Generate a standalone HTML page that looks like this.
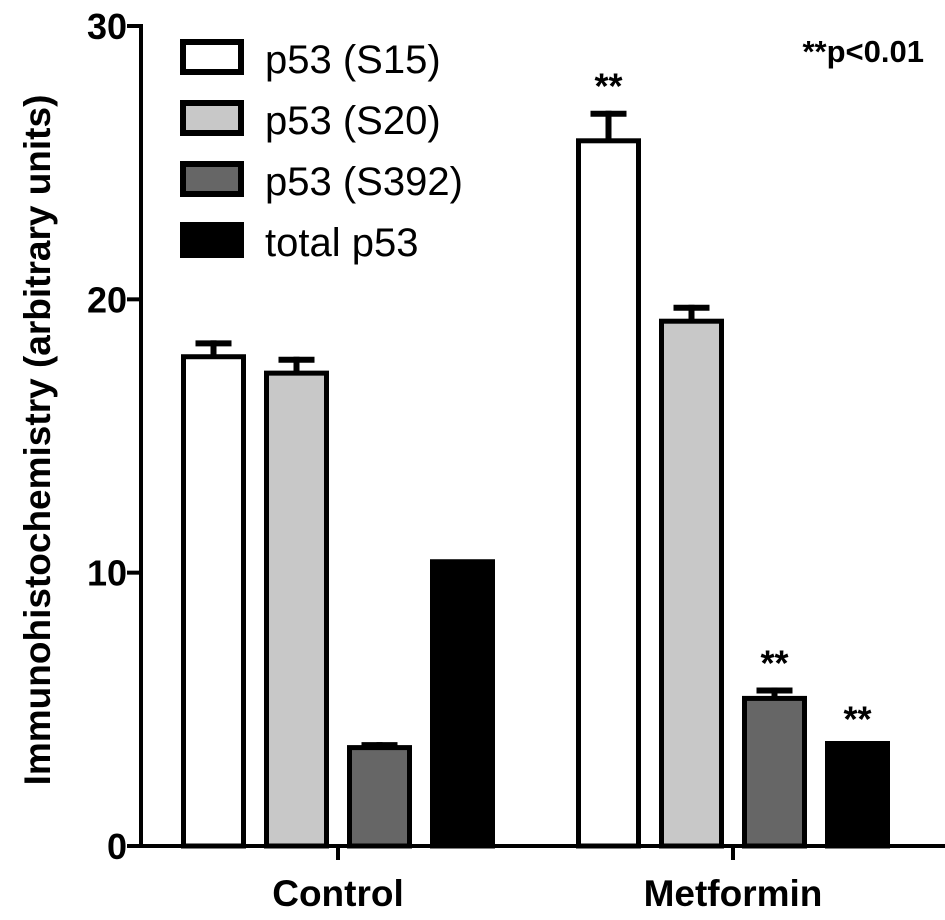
<!DOCTYPE html>
<html><head><meta charset="utf-8"><style>
body{margin:0;background:#fff;}
svg{display:block;font-family:"Liberation Sans",Arial,sans-serif;}
</style></head><body>
<svg id="chart" width="945" height="920" viewBox="0 0 945 920"></svg>
<script>
const categories = ["Control", "Metformin"];
const seriesNames = ["p53 (S15)", "p53 (S20)", "p53 (S392)", "total p53"];
const seriesFills = ["#ffffff", "#c8c8c8", "#666666", "#000000"];
const values = [[17.9, 17.3, 3.6, 10.4], [25.8, 19.2, 5.4, 3.75]];
const errors = [[0.6, 0.6, 0.2, 0], [1.1, 0.6, 0.4, 0]];
const sig = [[false, false, false, false], [true, false, true, true]];
const yTicks = [0, 10, 20, 30];

const NS = "http://www.w3.org/2000/svg";
const svg = document.getElementById("chart");
function el(tag, attrs, parent) {
  const e = document.createElementNS(NS, tag);
  for (const k in attrs) e.setAttribute(k, attrs[k]);
  (parent || svg).appendChild(e);
  return e;
}
const x0 = 141, yBase = 846, yTop = 26, yMax = 30;
function yScale(v) { return yBase - (v / yMax) * (yBase - yTop); }
const groupCenters = [338, 733];
const barStep = 83, barW = 60;
function barX(g, s) { return groupCenters[g] + (s - 1.5) * barStep - barW / 2; }

for (let g = 0; g < categories.length; g++) {
  for (let s = 0; s < seriesNames.length; s++) {
    const v = values[g][s], x = barX(g, s), y = yScale(v);
    const e = errors[g][s];
    if (e > 0) {
      const ey = yScale(v + e), cx = x + barW / 2;
      const eb = el("line", {x1: cx, x2: cx, y1: ey, y2: y, stroke: "#000", "stroke-width": 6});
      
      
      const cap = el("line", {x1: cx - 18, x2: cx + 18, y1: ey + 3, y2: ey + 3, stroke: "#000", "stroke-width": 6});
      
      
    }
    const r = el("rect", {x: x, y: y, width: barW, height: yBase - y, fill: seriesFills[s], stroke: "#000", "stroke-width": 5});
    
    
    if (sig[g][s]) {
      const t = el("text", {x: x + barW / 2, y: yScale(v + e) - 12, "text-anchor": "middle", "font-size": 36, "font-weight": "bold"});
      t.textContent = "**";
      
      
    }
  }
}
const ya = el("line", {x1: x0, x2: x0, y1: yTop - 2, y2: yBase + 2, stroke: "#000", "stroke-width": 4});


const xa = el("line", {x1: x0 - 14, x2: 945, y1: yBase, y2: yBase, stroke: "#000", "stroke-width": 4});


for (const t of yTicks) {
  const ty = yScale(t);
  const tl = el("line", {x1: x0 - 14, x2: x0, y1: ty, y2: ty, stroke: "#000", "stroke-width": 4});
  
  
  const tx = el("text", {x: x0 - 14, y: ty + 13, "text-anchor": "end", "font-size": 36, "font-weight": "bold"});
  tx.textContent = t;
  
  
}
for (let g = 0; g < categories.length; g++) {
  const tl = el("line", {x1: groupCenters[g], x2: groupCenters[g], y1: yBase, y2: yBase + 14, stroke: "#000", "stroke-width": 4});
  
  
  const tx = el("text", {x: groupCenters[g], y: 906, "text-anchor": "middle", "font-size": 37, "font-weight": "bold"});
  tx.textContent = categories[g];
  
  
}
const yt = el("text", {x: 0, y: 0, transform: "translate(50,440) rotate(-90)", "text-anchor": "middle", "font-size": 37, "font-weight": "bold"});
yt.textContent = "Immunohistochemistry (arbitrary units)";


for (let s = 0; s < seriesNames.length; s++) {
  const ly = 42 + s * 61;
  const r = el("rect", {x: 183, y: ly, width: 58, height: 30, fill: seriesFills[s], stroke: "#000", "stroke-width": 6});
  
  
  const t = el("text", {x: 265, y: ly + 31, "font-size": 40});
  t.textContent = seriesNames[s];
  
  
}
const pn = el("text", {x: 924, y: 62, "text-anchor": "end", "font-size": 31, "font-weight": "bold"});
pn.textContent = "**p<0.01";


</script>
</body></html>
